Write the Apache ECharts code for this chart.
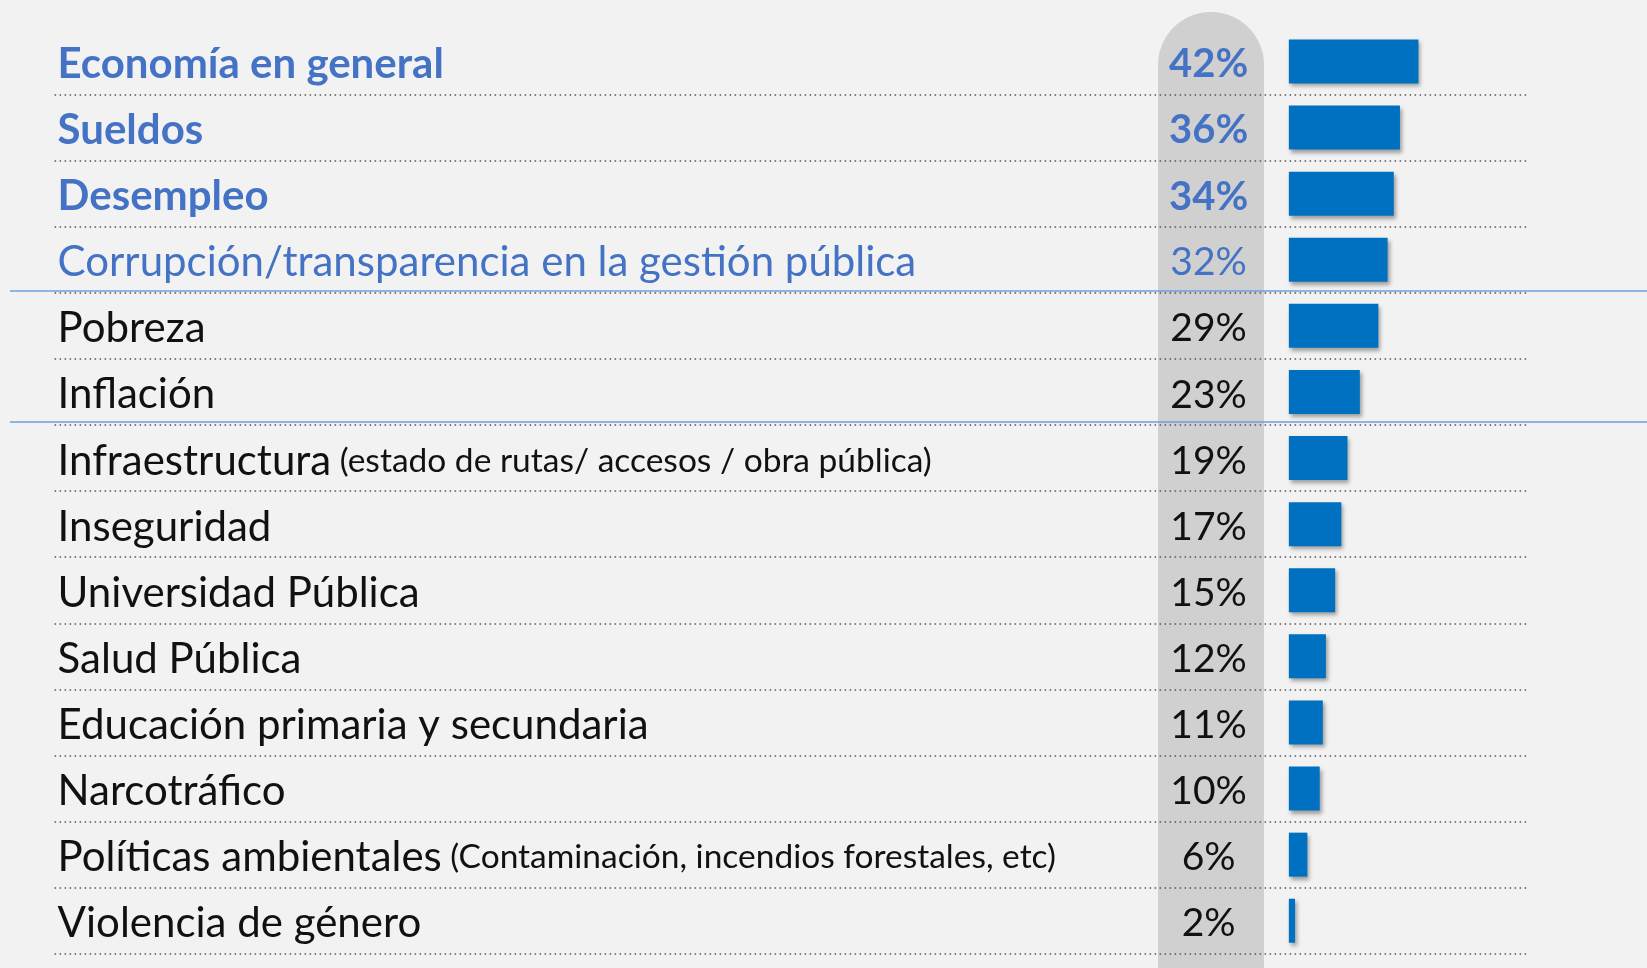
<!DOCTYPE html>
<html>
<head>
<meta charset="utf-8">
<script src="https://cdn.jsdelivr.net/npm/echarts@6/dist/echarts.min.js"></script>
<style>
  html, body { margin: 0; padding: 0; background: #f2f2f2; }
  #chart { width: 1647px; height: 968px; }
</style>
</head>
<body>
<div id="chart"></div>
<script>
// temas, notas entre paréntesis y porcentajes
var categories = ['Economía en general', 'Sueldos', 'Desempleo', 'Corrupción/transparencia en la gestión pública',
  'Pobreza', 'Inflación', 'Infraestructura', 'Inseguridad', 'Universidad Pública', 'Salud Pública',
  'Educación primaria y secundaria', 'Narcotráfico', 'Políticas ambientales', 'Violencia de género'];
var notes = ['', '', '', '', '', '', '(estado de rutas/ accesos / obra pública)', '', '', '', '', '',
  '(Contaminación, incendios forestales, etc)', ''];
var values = [42, 36, 34, 32, 29, 23, 19, 17, 15, 12, 11, 10, 6, 2];
// estilo de cada fila: b = azul negrita, n = azul normal, k = negro
var rowStyle = ['b', 'b', 'b', 'n', 'k', 'k', 'k', 'k', 'k', 'k', 'k', 'k', 'k', 'k'];

var FONT = 'Lato';
var rich = {
  b: { fontFamily: FONT, fontSize: 42, fontWeight: 'bold', color: '#4472c4' },
  n: { fontFamily: FONT, fontSize: 42, color: '#4472c4' },
  k: { fontFamily: FONT, fontSize: 42, color: '#111111' },
  s: { fontFamily: FONT, fontSize: 33.5, color: '#111111' },
  pb: { fontFamily: FONT, fontSize: 40, fontWeight: 'bold', color: '#4472c4' },
  pn: { fontFamily: FONT, fontSize: 39, color: '#4472c4' },
  pk: { fontFamily: FONT, fontSize: 39, color: '#111111' }
};

var chart = echarts.init(document.getElementById('chart'));
chart.setOption({
  backgroundColor: '#f2f2f2',
  animation: false,
  graphic: [
    { type: 'rect', z: -10, shape: { x: 1158, y: 12, width: 106, height: 1010, r: 53 }, style: { fill: '#d1d0d0' } },
    { type: 'line', z: 10, shape: { x1: 10, y1: 291, x2: 1647, y2: 291 }, style: { stroke: '#6aa0d8', lineWidth: 1.5 } },
    { type: 'line', z: 10, shape: { x1: 10, y1: 422, x2: 1647, y2: 422 }, style: { stroke: '#6aa0d8', lineWidth: 1.5 } }
  ],
  grid: { left: 54.6, right: 119, top: 28.4, bottom: 14.2 },
  xAxis: { type: 'value', min: -400, max: 77.5, show: false },
  yAxis: [
    {
      type: 'category',
      inverse: true,
      data: categories,
      axisLine: { show: false },
      axisTick: { show: false },
      splitLine: { show: true, showMinLine: false, lineStyle: { color: '#555', width: 1.5, type: [1.5, 3.5] } },
      axisLabel: {
        align: 'left',
        margin: -3,
        padding: [6, 0, 0, 0],
        rich: rich,
        formatter: function (v, i) {
          var s = '{' + rowStyle[i] + '|' + v + '}';
          if (notes[i]) s += '{s| ' + notes[i] + '}';
          return s;
        }
      }
    },
    {
      type: 'category',
      inverse: true,
      position: 'left',
      data: values.map(function (v) { return v + '%'; }),
      axisLine: { show: false },
      axisTick: { show: false },
      splitLine: { show: false },
      axisLabel: {
        align: 'center',
        margin: -1154,
        padding: [6, 0, 0, 0],
        rich: rich,
        formatter: function (v, i) { return '{p' + rowStyle[i] + '|' + v + '}'; }
      }
    }
  ],
  series: [{
    type: 'bar',
    data: values,
    barWidth: 44,
    itemStyle: {
      color: '#0070c0',
      shadowColor: 'rgba(0,0,0,0.35)',
      shadowBlur: 4,
      shadowOffsetX: 2,
      shadowOffsetY: 3
    }
  }]
});
</script>
</body>
</html>
